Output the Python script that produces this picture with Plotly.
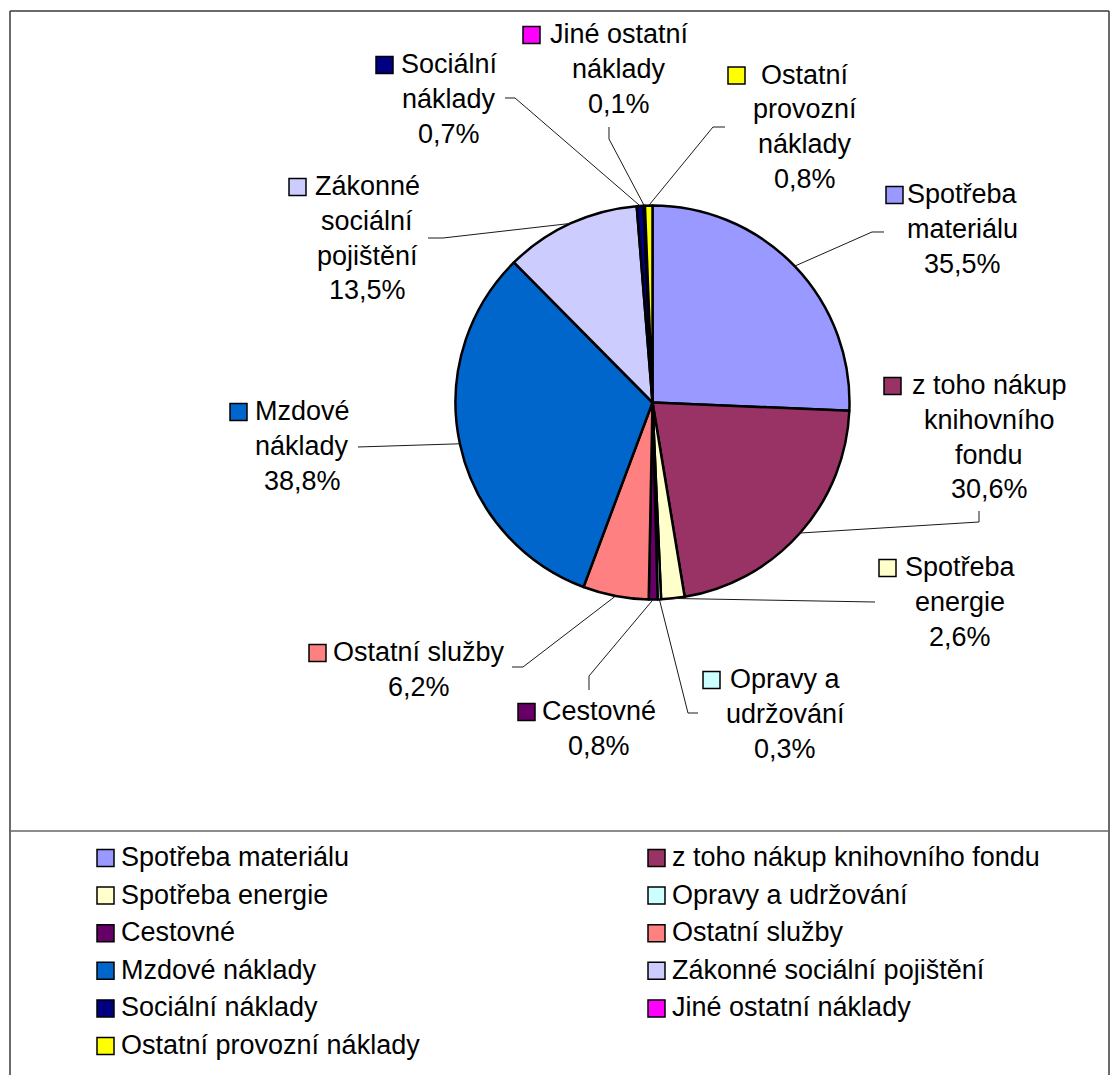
import math
import plotly.graph_objects as go

# ---------------- data ----------------
categories = [
    "Spotřeba materiálu", "z toho nákup knihovního fondu", "Spotřeba energie",
    "Opravy a udržování", "Cestovné", "Ostatní služby", "Mzdové náklady",
    "Zákonné sociální pojištění", "Sociální náklady", "Jiné ostatní náklady",
    "Ostatní provozní náklady",
]
# slice sizes as drawn in the picture (degrees of the circle)
slice_size = [92.4, 78.2, 6.9, 1.0, 2.6, 19.4, 114.8, 40.1, 2.0, 0.4, 2.2]
# percentages printed in the data labels
pct_labels = ["35,5%", "30,6%", "2,6%", "0,3%", "0,8%", "6,2%", "38,8%",
              "13,5%", "0,7%", "0,1%", "0,8%"]
# wrapped category names used in the data labels
label_wrap = [
    ["Spotřeba", "materiálu"], ["z toho nákup", "knihovního", "fondu"],
    ["Spotřeba", "energie"], ["Opravy a", "udržování"], ["Cestovné"],
    ["Ostatní služby"], ["Mzdové", "náklady"], ["Zákonné", "sociální", "pojištění"],
    ["Sociální", "náklady"], ["Jiné ostatní", "náklady"],
    ["Ostatní", "provozní", "náklady"],
]
colors = ["#9999FF", "#993366", "#FFFFCC", "#CCFFFF", "#660066", "#FF8080",
          "#0066CC", "#CCCCFF", "#000080", "#FF00FF", "#FFFF00"]

# ---------------- layout (pixels) ----------------
W, H = 1111, 1075
CX, CY, R = 652.5, 402.5, 197
FONT = "Liberation Sans, Arial, sans-serif"
FS = 27
LS = 34.8
KEY = 17

# label placement: (text centre x, first line y, key left x, leader start, leader elbow)
label_pos = [
    (962, 194, 886, (884, 232), (872, 232)),
    (989, 385, 884, (979, 511), (979, 522)),
    (960, 567, 879, (875, 602), (875, 602)),
    (785, 679, 703, (698, 713), (688, 713)),
    (599, 711, 518, (589, 690), (589, 676)),
    (419, 652, 309, (512, 667), (523, 667)),
    (302, 411, 230, (358, 447), (358, 447)),
    (367, 186, 289, (428, 238), (443, 238)),
    (449, 64, 376, (505, 98), (515, 98)),
    (619, 34, 523, (609, 127), (609, 139)),
    (805, 74.5, 728, (725, 127), (713, 127)),
]


def px(x):
    return x / W


def py(y):
    return 1 - y / H


fig = go.Figure()
fig.add_trace(go.Pie(
    labels=categories, values=slice_size, sort=False, direction="clockwise",
    rotation=0, textinfo="none", hoverinfo="label", showlegend=False,
    marker=dict(colors=colors, line=dict(color="black", width=2.5)),
    domain=dict(x=[px(CX - R), px(CX + R)], y=[py(CY + R), py(CY - R)]),
))

shapes = []
annotations = []

# chart frame and legend separator
border = "#3a3a3a"
shapes.append(dict(type="line", xref="paper", yref="paper", x0=px(10), x1=px(10),
                   y0=py(11), y1=py(1090), line=dict(color=border, width=1.5)))
shapes.append(dict(type="line", xref="paper", yref="paper", x0=px(10), x1=px(1109),
                   y0=py(11), y1=py(11), line=dict(color=border, width=1.5)))
shapes.append(dict(type="line", xref="paper", yref="paper", x0=px(1109), x1=px(1109),
                   y0=py(11), y1=py(1090), line=dict(color=border, width=1.5)))
shapes.append(dict(type="line", xref="paper", yref="paper", x0=px(10), x1=px(1109),
                   y0=py(831), y1=py(831), line=dict(color="#666666", width=1.5)))

# data labels with leader lines
total = sum(slice_size)
cum = 0.0
for i, v in enumerate(slice_size):
    mid = (cum + v / 2) / total * 2 * math.pi
    cum += v
    ax = CX + R * math.sin(mid)
    ay = CY - R * math.cos(mid)
    cx, y0, kx, start, elbow = label_pos[i]
    lines = label_wrap[i] + [pct_labels[i]]
    for k, t in enumerate(lines):
        annotations.append(dict(
            x=px(cx), y=py(y0 + k * LS), xref="paper", yref="paper",
            text=t, showarrow=False, xanchor="center", yanchor="middle",
            font=dict(family=FONT, size=FS, color="black"),
        ))
    shapes.append(dict(type="rect", xref="paper", yref="paper",
                       x0=px(kx), x1=px(kx + KEY),
                       y0=py(y0 + 1 + KEY / 2), y1=py(y0 + 1 - KEY / 2),
                       fillcolor=colors[i], line=dict(color="black", width=1.5)))
    pts = [start] if start == elbow else [start, elbow]
    pts.append((ax, ay))
    path = "M " + " L ".join(f"{px(x):.5f},{py(y):.5f}" for x, y in pts)
    shapes.append(dict(type="path", xref="paper", yref="paper", path=path,
                       line=dict(color="#1a1a1a", width=1)))

# legend (two columns)
leg_key_x = [97, 648]
leg_text_x = [119, 670]
leg_y0, leg_dy = 857, 37.6
for i, name in enumerate(categories):
    row, col = divmod(i, 2)
    y = leg_y0 + row * leg_dy
    shapes.append(dict(type="rect", xref="paper", yref="paper",
                       x0=px(leg_key_x[col]), x1=px(leg_key_x[col] + KEY),
                       y0=py(y + 1 + KEY / 2), y1=py(y + 1 - KEY / 2),
                       fillcolor=colors[i], line=dict(color="black", width=1.5)))
    annotations.append(dict(
        x=px(leg_text_x[col]), y=py(y), xref="paper", yref="paper",
        text=name, showarrow=False, xanchor="left", yanchor="middle",
        font=dict(family=FONT, size=FS, color="black"),
    ))

fig.update_layout(
    width=W, height=H, margin=dict(l=0, r=0, t=0, b=0),
    paper_bgcolor="white", plot_bgcolor="white",
    shapes=shapes, annotations=annotations,
)

fig.write_html("out.html", config={"displayModeBar": False},
               post_script="document.body.style.margin='0';document.body.style.overflow='hidden';")
